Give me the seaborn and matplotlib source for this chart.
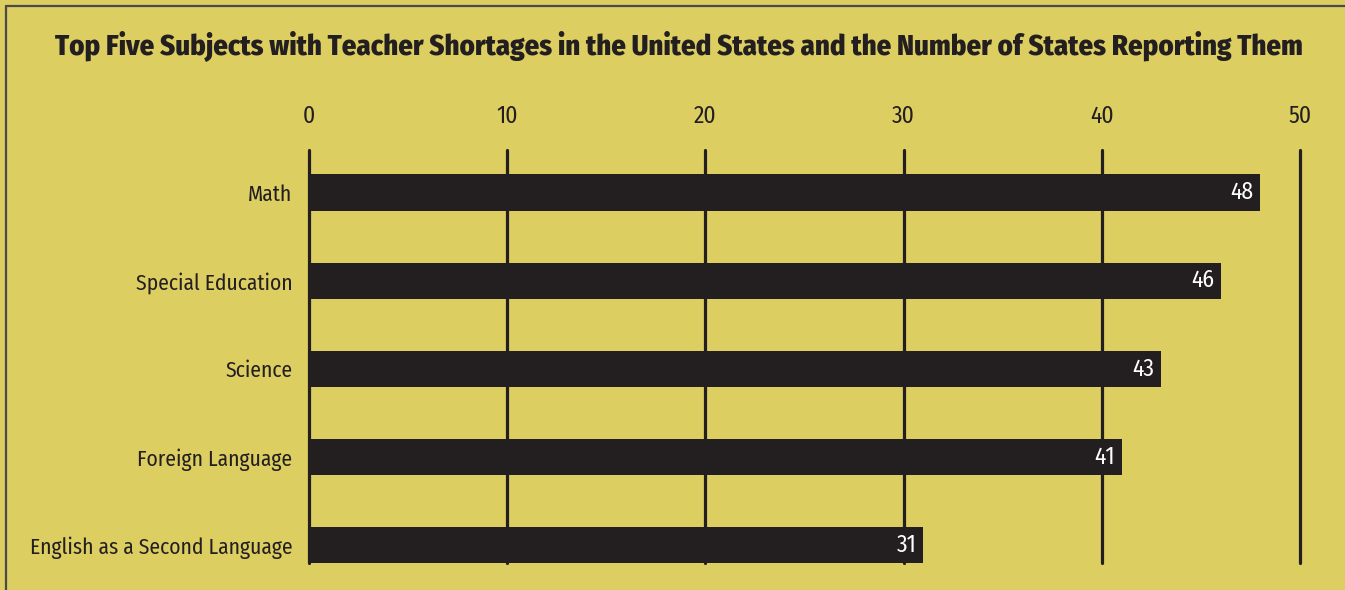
import matplotlib
matplotlib.use('Agg')
import matplotlib.pyplot as plt
from matplotlib.lines import Line2D
import seaborn as sns
import pandas as pd

subjects = ["Math", "Special Education", "Science", "Foreign Language", "English as a Second Language"]
states = [48, 46, 43, 41, 31]
xticks = [0, 10, 20, 30, 40, 50]

bg = "#DDCE62"
ink = "#231F20"
font = ["Fira Sans Condensed", "DejaVu Sans"]


def plot(df):
    sns.set_style("white")
    plt.rcParams['font.family'] = font

    fig = plt.figure(figsize=(13.45, 5.9), dpi=100, facecolor=bg)
    ax = fig.add_axes([309 / 1345, 27 / 590, 991 / 1345, 413 / 590])
    ax.set_facecolor(bg)

    sns.barplot(data=df, x="states", y="subject", color=ink, saturation=1,
                width=0.41, linewidth=0, ax=ax)

    ax.set_xlim(0, 50)
    ax.set_ylim(4.205, -0.483)
    ax.set_xticks(xticks)
    ax.xaxis.tick_top()
    ax.tick_params(axis="x", length=0, pad=16, labelsize=17, labelcolor=ink)
    ax.tick_params(axis="y", length=0, pad=12, labelsize=15.5, labelcolor=ink)
    ax.set_xlabel("")
    ax.set_ylabel("")

    ax.xaxis.grid(True, color=ink, lw=2.3)
    ax.yaxis.grid(False)
    ax.set_axisbelow(True)
    for line in ax.get_xgridlines():
        line.set_clip_on(False)
    sns.despine(ax=ax, left=True, bottom=True, top=True, right=True)

    for i, v in enumerate(df.states):
        ax.annotate(str(v), xy=(v, i), xytext=(-5, 0), textcoords="offset points",
                    ha="right", va="center", color="white", fontsize=17)

    fig.text(0.505, 1 - 46 / 590,
             "Top Five Subjects with Teacher Shortages in the United States and the Number of States Reporting Them",
             ha="center", va="center", fontsize=20.7, fontweight=800, color=ink)

    # frame lines at left and top of the panel
    fig.add_artist(Line2D([6 / 1345, 6 / 1345], [0, 1 - 6 / 590], color="#4A4A4A", lw=1.6,
                          transform=fig.transFigure))
    fig.add_artist(Line2D([6 / 1345, 1], [1 - 6 / 590, 1 - 6 / 590], color="#4A4A4A", lw=1.6,
                          transform=fig.transFigure))

    fig.savefig("out.png", dpi=100, facecolor=bg)


def main():
    df = pd.DataFrame({"subject": subjects, "states": states})
    plot(df)


if __name__ == '__main__':
    main()
